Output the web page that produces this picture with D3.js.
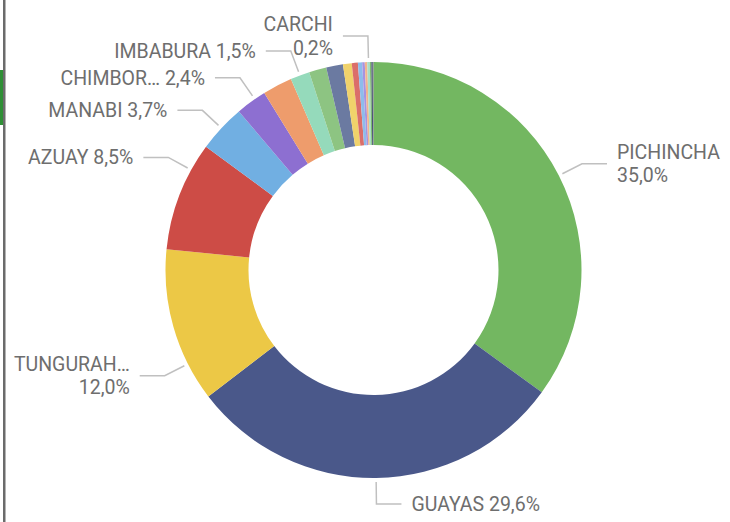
<!DOCTYPE html>
<html>
<head>
<meta charset="utf-8">
<script src="https://cdn.jsdelivr.net/npm/d3@7"></script>
<style>
  body { margin: 0; background: #fff; }
  .lbl { font-family: Roboto, "DejaVu Sans", sans-serif; font-size: 19.5px; fill: #6e6e6e; }
</style>
</head>
<body>
<div class="chart"></div>
<script>
// data: share by province (%)
var provinces = ["PICHINCHA", "GUAYAS", "TUNGURAHUA", "AZUAY", "MANABI", "CHIMBORAZO", "EL ORO",
  "IMBABURA", "LOJA", "COTOPAXI", "SANTO DOMINGO", "ESMERALDAS", "LOS RIOS", "SANTA ELENA",
  "CAÑAR", "CARCHI", "NAPO", "SUCUMBIOS", "GALAPAGOS"];
var shares = [35.0, 29.6, 12.0, 8.5, 3.7, 2.4, 2.3, 1.5, 1.35, 1.3, 0.68, 0.47, 0.33, 0.2,
  0.19, 0.2, 0.12, 0.1, 0.06];
var sliceColors = ["#73B761", "#4A588A", "#ECC846", "#CD4C46", "#71AFE2", "#8D6FD1", "#EE9C6C",
  "#95DABB", "#8DC482", "#6B7AA1", "#F0D26B", "#DB6E6A", "#8EBCEB", "#A793E0",
  "#F2B48E", "#A8E0C6", "#7DB86F", "#3B4670", "#7A7A7A"];

// which slices get a data label (text shown, two lines or not, angle nudge in degrees)
var labelled = [
  { name: "PICHINCHA", text: "PICHINCHA", twoLines: true, nudge: 0 },
  { name: "GUAYAS", text: "GUAYAS", twoLines: false, nudge: 0 },
  { name: "TUNGURAHUA", text: "TUNGURAH…", twoLines: true, nudge: -11 },
  { name: "AZUAY", text: "AZUAY", twoLines: false, nudge: 7.7 },
  { name: "MANABI", text: "MANABI", twoLines: false, nudge: 0 },
  { name: "CHIMBORAZO", text: "CHIMBOR…", twoLines: false, nudge: 1.2 },
  { name: "IMBABURA", text: "IMBABURA", twoLines: false, nudge: 0 },
  { name: "CARCHI", text: "CARCHI", twoLines: true, nudge: 0 }
];

var svgWidth = 730, svgHeight = 522;
var cx = 373.5, cy = 270;
var outerR = 208, innerR = 125;

var svg = d3.select(".chart").append("svg")
  .attr("width", svgWidth)
  .attr("height", svgHeight);

// left edge bits from the report frame
svg.append("rect").attr("x", 3).attr("y", 0).attr("width", 2.5).attr("height", svgHeight).attr("fill", "#6b6b6b");
svg.append("rect").attr("x", 0).attr("y", 70).attr("width", 3).attr("height", 55).attr("fill", "#2f8f36");

var data = provinces.map((p, i) => ({ name: p, value: shares[i], color: sliceColors[i] }));
var total = d3.sum(shares);

var pie = d3.pie().sort(null).value(d => d.value);
var arcs = pie(data);

var arc = d3.arc().innerRadius(innerR).outerRadius(outerR);

var g = svg.append("g").attr("transform", `translate(${cx}, ${cy})`);

g.selectAll("path.slice")
  .data(arcs)
  .enter()
  .append("path")
  .attr("class", "slice")
  .attr("d", arc)
  .attr("fill", d => d.data.color);

var fmt = v => d3.format(".1f")(v).replace(".", ",") + "%";

// leader lines + labels
var pt = (ang, r) => [Math.sin(ang) * r, -Math.cos(ang) * r];

labelled.forEach(l => {
  var a = arcs.find(d => d.data.name === l.name);
  var ang = (a.startAngle + a.endAngle) / 2 + l.nudge * Math.PI / 180;
  var p0 = pt(ang, outerR + 4);
  var p1 = pt(ang, outerR + 26);
  var right = Math.sin(ang) > 0;
  var dir = right ? 1 : -1;
  var p2 = [p1[0] + dir * 25, p1[1]];

  g.append("path")
    .attr("d", d3.line()([p0, p1, p2]))
    .attr("fill", "none")
    .attr("stroke", "#c0c0c0")
    .attr("stroke-width", 1.5);

  var pct = fmt(a.data.value / total * 100);
  var tx = p2[0] + dir * 10;
  var anchor = right ? "start" : "end";

  if (l.twoLines) {
    var t = g.append("text").attr("class", "lbl").attr("text-anchor", anchor);
    t.append("tspan").attr("x", tx).attr("y", p2[1] - 5).text(l.text);
    t.append("tspan").attr("x", tx).attr("y", p2[1] + 18.5).text(pct);
  } else {
    g.append("text").attr("class", "lbl").attr("text-anchor", anchor)
      .attr("x", tx).attr("y", p2[1] + 7)
      .text(l.text + " " + pct);
  }
});
</script>
</body>
</html>
